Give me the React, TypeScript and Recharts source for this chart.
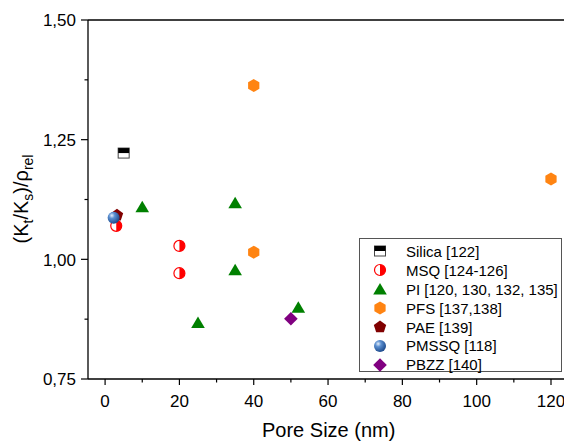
import { ScatterChart, Scatter, XAxis, YAxis, ReferenceLine, Legend } from 'recharts';

// pore size (nm) and (Kt/Ks)/rho_rel for each material family
const silicaPore = [5];
const silicaRatio = [1.222];
const msqPore = [3, 20, 20];
const msqRatio = [1.07, 1.028, 0.971];
const piPore = [10, 25, 35, 35, 52];
const piRatio = [1.11, 0.868, 1.118, 0.978, 0.9];
const pfsPore = [40, 40, 120];
const pfsRatio = [1.363, 1.015, 1.168];
const paePore = [3.2];
const paeRatio = [1.092];
const pmssqPore = [2.3];
const pmssqRatio = [1.087];
const pbzzPore = [50];
const pbzzRatio = [0.876];

const xTicks = [0, 10, 20, 30, 40, 50, 60, 70, 80, 90, 100, 110, 120];
const yTicks = [0.75, 0.875, 1, 1.125, 1.25, 1.375, 1.5];

const FONT = '"Liberation Sans", Arial, sans-serif';

const toPoints = (xs: number[], ys: number[]) => xs.map((x, i) => ({ x, y: ys[i] }));

const HalfSquare = ({ cx, cy }: any) => (
  <g>
    <rect x={cx - 5.5} y={cy - 5} width={11} height={10} fill="#fff" stroke="#444" strokeWidth={1} />
    <rect x={cx - 5.5} y={cy - 5} width={11} height={5} fill="#000" />
  </g>
);

const HalfCircle = ({ cx, cy }: any) => (
  <g>
    <circle cx={cx} cy={cy} r={5.5} fill="#fff" stroke="#ff0000" strokeWidth={1.2} />
    <path d={`M${cx},${cy - 5.5} A5.5,5.5 0 0 1 ${cx},${cy + 5.5} Z`} fill="#ff0000" />
  </g>
);

const Triangle = ({ cx, cy }: any) => (
  <polygon points={`${cx},${cy - 6} ${cx + 6.8},${cy + 5.5} ${cx - 6.8},${cy + 5.5}`} fill="#008000" />
);

const Hexagon = ({ cx, cy }: any) => {
  const r = 6.5;
  const pts = [0, 1, 2, 3, 4, 5]
    .map((k) => {
      const a = (Math.PI / 3) * k - Math.PI / 2;
      return `${cx + r * Math.cos(a)},${cy + r * Math.sin(a)}`;
    })
    .join(' ');
  return <polygon points={pts} fill="#ff8412" />;
};

const Pentagon = ({ cx, cy }: any) => {
  const r = 6.5;
  const pts = [0, 1, 2, 3, 4]
    .map((k) => {
      const a = ((2 * Math.PI) / 5) * k - Math.PI / 2;
      return `${cx + r * Math.cos(a)},${cy + r * Math.sin(a)}`;
    })
    .join(' ');
  return <polygon points={pts} fill="#800000" />;
};

const Sphere = ({ cx, cy }: any) => (
  <g>
    <defs>
      <radialGradient id="sphereFill" cx="35%" cy="32%" r="70%">
        <stop offset="0%" stopColor="#e4eefa" />
        <stop offset="35%" stopColor="#5b8fd0" />
        <stop offset="100%" stopColor="#1d4a8c" />
      </radialGradient>
    </defs>
    <circle cx={cx} cy={cy} r={6} fill="url(#sphereFill)" />
  </g>
);

const Diamond = ({ cx, cy }: any) => (
  <polygon points={`${cx},${cy - 6.8} ${cx + 6.8},${cy} ${cx},${cy + 6.8} ${cx - 6.8},${cy}`} fill="#800080" />
);

const series = [
  { name: 'Silica [122]', data: toPoints(silicaPore, silicaRatio), Shape: HalfSquare },
  { name: 'MSQ [124-126]', data: toPoints(msqPore, msqRatio), Shape: HalfCircle },
  { name: 'PI [120, 130, 132, 135]', data: toPoints(piPore, piRatio), Shape: Triangle },
  { name: 'PFS [137,138]', data: toPoints(pfsPore, pfsRatio), Shape: Hexagon },
  { name: 'PAE [139]', data: toPoints(paePore, paeRatio), Shape: Pentagon },
  { name: 'PMSSQ [118]', data: toPoints(pmssqPore, pmssqRatio), Shape: Sphere },
  { name: 'PBZZ [140]', data: toPoints(pbzzPore, pbzzRatio), Shape: Diamond },
];

const XTick = ({ x, y, payload }: any) => {
  const major = payload.value % 20 === 0;
  return (
    <g>
      <line x1={x} x2={x} y1={y} y2={y + (major ? 6 : 3.5)} stroke="#000" strokeWidth={1.2} />
      {major && (
        <text x={x} y={y + 27.5} textAnchor="middle" fontSize={17} fontFamily={FONT} fill="#000">
          {payload.value}
        </text>
      )}
    </g>
  );
};

const YTick = ({ x, y, payload }: any) => {
  const steps = (payload.value - 0.75) / 0.25;
  const major = Math.abs(steps - Math.round(steps)) < 1e-6;
  return (
    <g>
      <line x1={x - (major ? 7 : 3.5)} x2={x} y1={y} y2={y} stroke="#000" strokeWidth={1.2} />
      {major && (
        <text x={x - 12} y={y + 6.3} textAnchor="end" fontSize={17} fontFamily={FONT} fill="#000">
          {payload.value.toFixed(2).replace('.', ',')}
        </text>
      )}
    </g>
  );
};

const LegendBox = () => (
  <div
    style={{
      width: 203,
      height: 134,
      boxSizing: 'border-box',
      border: '1px solid #555',
      background: '#fff',
      paddingTop: 3,
      fontFamily: FONT,
      fontSize: 15,
      color: '#000',
    }}
  >
    {series.map(({ name, Shape }) => (
      <div key={name} style={{ display: 'flex', alignItems: 'center', height: 18.9 }}>
        <svg width={40} height={18} style={{ flex: 'none' }}>
          <Shape cx={20} cy={9} />
        </svg>
        <span style={{ marginLeft: 6, whiteSpace: 'nowrap' }}>{name}</span>
      </div>
    ))}
  </div>
);

export default function App() {
  return (
    <div style={{ position: 'absolute', left: 0, top: 0, background: '#fff' }}>
      <ScatterChart width={564} height={441} margin={{ top: 20, right: 0, bottom: 0, left: 0 }}>
        <XAxis
          type="number"
          dataKey="x"
          domain={[-4.6, 123.5]}
          ticks={xTicks}
          interval={0}
          allowDataOverflow
          height={62}
          tickSize={0}
          tickMargin={0}
          tickLine={false}
          tick={<XTick />}
          axisLine={{ stroke: '#000', strokeWidth: 1.3 }}
          label={{
            content: () => (
              <text x={328.7} y={437} textAnchor="middle" fontSize={20} fontFamily={FONT} fill="#000">
                Pore Size (nm)
              </text>
            ),
          }}
        />
        <YAxis
          type="number"
          dataKey="y"
          domain={[0.75, 1.5]}
          ticks={yTicks}
          interval={0}
          allowDataOverflow
          width={88}
          tickSize={0}
          tickMargin={0}
          tickLine={false}
          tick={<YTick />}
          axisLine={{ stroke: '#000', strokeWidth: 1.3 }}
          label={{
            content: () => (
              <text
                transform="translate(28,199) rotate(-90)"
                textAnchor="middle"
                fontSize={20}
                fontFamily={FONT}
                fill="#000"
              >
                (K
                <tspan fontSize={14} dy={5}>t</tspan>
                <tspan dy={-5}>/K</tspan>
                <tspan fontSize={14} dy={5}>s</tspan>
                <tspan dy={-5}>)/ρ</tspan>
                <tspan fontSize={14} dy={5}>rel</tspan>
              </text>
            ),
          }}
        />
        <ReferenceLine y={1.5} stroke="#000" strokeWidth={1.3} />
        {series.map(({ name, data, Shape }) => (
          <Scatter
            key={name}
            name={name}
            data={data}
            isAnimationActive={false}
            shape={(p: any) => <Shape cx={p.cx} cy={p.cy} />}
          />
        ))}
        <Legend
          layout="vertical"
          align="center"
          verticalAlign="middle"
          wrapperStyle={{ left: 359, top: 238, width: 203, height: 134 }}
          content={() => <LegendBox />}
        />
      </ScatterChart>
    </div>
  );
}
